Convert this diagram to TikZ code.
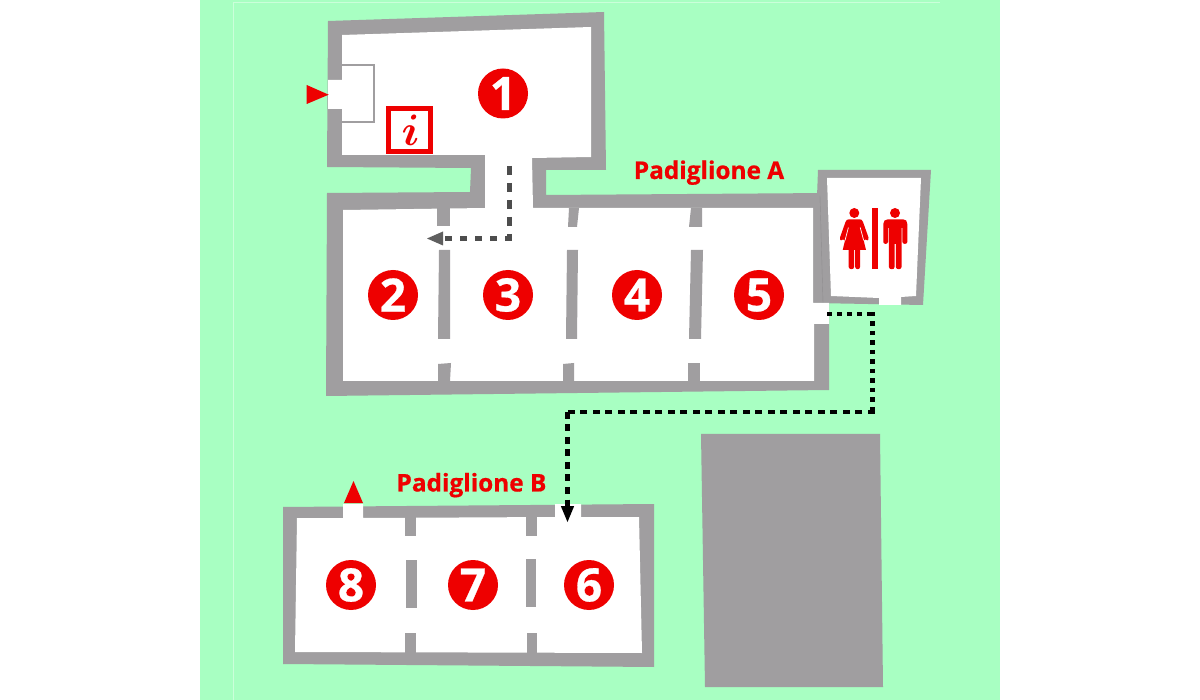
\documentclass[tikz,border=0pt]{standalone}
\usepackage{graphicx}
\usepackage{fontspec}
\usetikzlibrary{calc}
\setmainfont{Open Sans}
\newfontfamily\heavysans[BoldFeatures={FakeBold=0.6}]{Open Sans}
\definecolor{mapgreen}{RGB}{168,255,194}
\definecolor{wall}{RGB}{160,158,160}
\definecolor{mapred}{RGB}{238,0,0}
\definecolor{graydash}{RGB}{77,77,77}
\tikzset{
  wallfill/.style={fill=wall,draw=none},
  roomfill/.style={fill=white,draw=none},
  redfill/.style={fill=mapred,draw=none},
  badge/.style={circle,fill=mapred,draw=none,minimum size=50,inner sep=0,text=white,font=\heavysans\fontsize{46}{46}\selectfont\bfseries},
  hall/.style={text=mapred,font=\heavysans\fontsize{24.4}{26}\selectfont\bfseries,inner sep=0,anchor=base},
}
\begin{document}
\begin{tikzpicture}[x=1pt,y=-1pt]
\useasboundingbox (0,0) rectangle (1200,700);
\fill[white] (0,0) rectangle (1200,700);
\fill[mapgreen] (200,0) rectangle (1000,700);
\draw[mapgreen!60!white,line width=.8] (233.5,700) -- (233.5,2) -- (940,2);
% large block
\fill[wallfill] (701,434) -- (880,434) -- (883,687) -- (705,687) -- cycle;
% pavilion A walls
\fill[wallfill] (328,21) -- (604,12) -- (606,170) -- (546,170) -- (546,195) -- (829,193) -- (829,390) -- (326,396) -- (327,193) -- (470,192) -- (471,168) -- (327,167) -- cycle;
% toilet walls
\fill[wallfill] (818,170) -- (931,170) -- (923,305) -- (813,303) -- cycle;
\draw[wall!90!black,line width=.4] (820,196) -- (823,303);
% pavilion A rooms
\fill[roomfill] (342,35) -- (591,27) -- (591,157) -- (532,158) -- (533,208) -- (813,208) -- (813,303) -- (829,303) -- (829,324) -- (814,324) -- (814,381) -- (343,381) -- (343,210) -- (485,208) -- (485,155) -- (342,155) -- (342,109) -- (328,109) -- (328,80) -- (342,80) -- cycle;
% toilet room
\fill[roomfill] (827,178) -- (921,178) -- (916,296) -- (901,297) -- (901,305) -- (879,305) -- (879,298) -- (831,296) -- cycle;
% partitions A
\fill[wallfill] (437,208) -- (450,208) -- (450,226) -- (437,226) -- cycle;
\fill[wallfill] (439,250) -- (450,250) -- (450,339) -- (438,339) -- cycle;
\fill[wallfill] (438,364) -- (451,363) -- (450,381) -- (438,381) -- cycle;
\fill[wallfill] (569,208) -- (579,208) -- (577,227) -- (568,227) -- cycle;
\fill[wallfill] (567,250) -- (578,250) -- (577,339) -- (566,339) -- cycle;
\fill[wallfill] (563,364) -- (574,363) -- (574,381) -- (563,381) -- cycle;
\fill[wallfill] (691,208) -- (702,208) -- (702,227) -- (689,227) -- cycle;
\fill[wallfill] (691,250) -- (703,250) -- (701,339) -- (689,339) -- cycle;
\fill[wallfill] (688,363) -- (700,363) -- (700,381) -- (688,381) -- cycle;
% vestibule
\draw[wall,line width=1.7] (342,65) -- (374,65) -- (374,122) -- (342,122);
% pavilion B
\fill[wallfill] (283,507) -- (654,504) -- (654,667) -- (283,664) -- cycle;
\fill[roomfill] (297,518) -- (343,518) -- (343,504) -- (363,504) -- (363,518) -- (555,517) -- (555,504) -- (581,504) -- (581,517) -- (639,517) -- (642,653) -- (295,652) -- cycle;
\fill[wallfill] (405,517) rectangle (416,536);
\fill[wallfill] (406,560) rectangle (417,608);
\fill[wallfill] (405,633) rectangle (416,653);
\fill[wallfill] (526,517) rectangle (537,536);
\fill[wallfill] (526,559) rectangle (536,607);
\fill[wallfill] (527,633) rectangle (537,653);
% entrance arrows
\fill[redfill] (306.7,85) -- (328.7,94.7) -- (306.7,104) -- cycle;
\fill[redfill] (344,503) -- (363,503) -- (353.5,481) -- cycle;
% info sign
\node[draw=mapred,line width=5,fill=white,minimum size=42.5,inner sep=0] (info) at (409.5,130) {};
\node[text=mapred,inner sep=0] (infoi) at (410.5,130.5) {\scalebox{1.77}{\fontsize{24.88}{26}\selectfont\boldmath$i$}};
% badges
\node[badge] (r1) at (503,93.5) {1};
\node[badge] (r2) at (393,295) {2};
\node[badge] (r3) at (508,295) {3};
\node[badge] (r4) at (637,295) {4};
\node[badge] (r5) at (759,295) {5};
\node[badge] (r6) at (589,585) {6};
\node[badge] (r7) at (473,585) {7};
\node[badge] (r8) at (351,585) {8};
% labels
\node[hall] (pa) at (709,179) {Padiglione A};
\node[hall] (pb) at (471.5,491.5) {Padiglione B};
% woman
\fill[redfill] (854.3,213) circle (5);
\fill[redfill] (849,219.3) -- (859.5,219.3) .. controls (861.5,219.3) and (862.2,220) .. (863,222) -- (868.5,237.5) .. controls (869,240.5) and (866.5,241.5) .. (865.5,239.5) -- (863.7,240.5) -- (866,250) -- (860,250) -- (860,267) .. controls (860,270) and (855.5,270) .. (855.2,267) -- (855.2,250) -- (854,250) -- (854,267) .. controls (854,270) and (849,270) .. (848.7,267) -- (848.7,250) -- (842.7,250) -- (845,240.5) -- (843,239.5) .. controls (842,241.5) and (839.5,240.5) .. (840,237.5) -- (845.5,222) .. controls (846.5,220) and (847,219.3) .. (849,219.3) -- cycle;
\draw[white,line width=.7] (848.4,227.5) -- (845,240.5);
\draw[white,line width=.7] (860.2,227.5) -- (863.7,240.5);
% bar
\fill[redfill] (872.3,208.3) rectangle (878.3,269.3);
% man
\fill[redfill] (895,213) circle (5);
\fill[redfill] (888,219.3) -- (903,219.3) .. controls (906,219.3) and (907.3,221) .. (907.3,224) -- (907.3,242) .. controls (907.3,244.5) and (902.4,244.5) .. (902.4,242) -- (902.4,228) -- (901.5,228) -- (901.5,267) .. controls (901.5,270) and (896,270) .. (895.8,267) -- (895.8,244) -- (894.6,244) -- (894.6,267) .. controls (894.6,270) and (889,270) .. (888.9,267) -- (888.9,228) -- (888,228) -- (888,242) .. controls (888,244.5) and (883.3,244.5) .. (883.3,242) -- (883.3,224) .. controls (883.3,221) and (885,219.3) .. (888,219.3) -- cycle;
% gray route
\coordinate (g0) at (509,166);
\coordinate (g1) at (509,238.5);
\coordinate (g2) at (443,238.5);
\coordinate (g3) at (427,238.5);
\draw[graydash,line width=5,dash pattern=on 9 off 8] (g0) -- (g1);
\draw[graydash,line width=5,dash pattern=on 7 off 8] ($(g1)+(2.5,0)$) -- (g2);
\fill[graydash!90!white] (g3) -- ($(g2)+(0,-7)$) -- ($(g2)+(0,7)$) -- cycle;
% black route
\coordinate (b0) at (827,314);
\coordinate (b1) at (872.5,314);
\coordinate (b2) at (872.5,412);
\coordinate (b3) at (567.5,412);
\coordinate (b4) at (567.5,506);
\coordinate (b5) at (567.5,522);
\draw[black,line width=4.5,dash pattern=on 5 off 5] (b0) -- (b1);
\draw[black,line width=4.5,dash pattern=on 4.5 off 5] ($(b1)+(0,-2.2)$) -- (b2);
\draw[black,line width=4.5,dash pattern=on 7 off 5.5] ($(b2)+(2.2,0)$) -- (b3);
\draw[black,line width=4.5,dash pattern=on 7 off 5.5] (b3) -- (b4);
\fill[black] (b5) -- ($(b4)+(-6.7,0)$) -- ($(b4)+(6.7,0)$) -- cycle;
\end{tikzpicture}
\end{document}
